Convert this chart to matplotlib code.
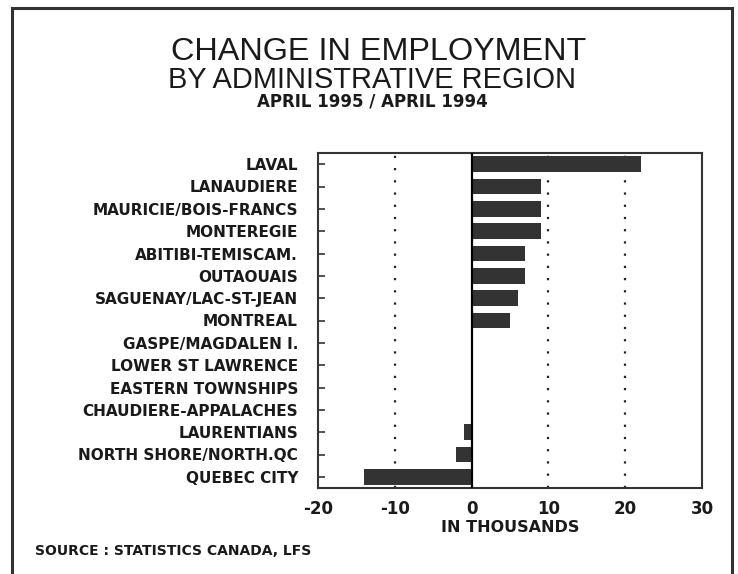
import matplotlib
matplotlib.use("Agg")
import matplotlib.pyplot as plt
from matplotlib.patches import Rectangle

# data (thousands)
regions = ["LAVAL", "LANAUDIERE", "MAURICIE/BOIS-FRANCS", "MONTEREGIE",
           "ABITIBI-TEMISCAM.", "OUTAOUAIS", "SAGUENAY/LAC-ST-JEAN", "MONTREAL",
           "GASPE/MAGDALEN I.", "LOWER ST LAWRENCE", "EASTERN TOWNSHIPS",
           "CHAUDIERE-APPALACHES", "LAURENTIANS", "NORTH SHORE/NORTH.QC",
           "QUEBEC CITY"]
change = [22, 9, 9, 9, 7, 7, 6, 5, 0, 0, 0, 0, -1, -2, -14]
xticks = [-20, -10, 0, 10, 20, 30]

W, H = 738, 574
fig = plt.figure(figsize=(W / 100, H / 100), dpi=100)
fig.patch.set_facecolor("white")

# outer frame (bottom edge cut off)
frame = Rectangle((12 / W, -0.05), 720 / W, 1.05 - 8 / H, transform=fig.transFigure,
                  fill=False, edgecolor="#333333", linewidth=2.2)
fig.patches.append(frame)

ax = fig.add_axes([318 / W, 1 - 488 / H, 384 / W, 335 / H])
pos = list(range(len(regions)))
ax.barh(pos, change, height=0.7, color="#333333", zorder=3)
ax.set_ylim(len(regions) - 0.5, -0.5)
ax.set_xlim(-20, 30)

bold = dict(fontweight="bold", family="DejaVu Sans", color="#1a1a1a")
ax.set_yticks(pos)
ax.set_yticklabels(regions, fontsize=11, **bold)
ax.tick_params(axis="y", direction="in", length=5, width=1.2, pad=14.4, color="#333333")
ax.set_xticks(xticks)
ax.set_xticklabels([str(v) for v in xticks], fontsize=12, **bold)
ax.tick_params(axis="x", length=0, pad=9)

for v in xticks[1:-1]:
    if v == 0:
        ax.axvline(v, color="black", linewidth=1.6, zorder=4)
    else:
        ax.axvline(v, color="#222222", linewidth=1.6, linestyle=(0, (1, 4.5)), zorder=2)

for s in ax.spines.values():
    s.set_color("#333333")
    s.set_linewidth(1.5)

ax.set_xlabel("IN THOUSANDS", fontsize=11.5, labelpad=1, **bold)

fig.text(379 / W, 1 - 60 / H, "CHANGE IN EMPLOYMENT", ha="center", va="baseline",
         fontsize=23.3, family="Liberation Sans", color="#1a1a1a")
fig.text(372 / W, 1 - 88 / H, "BY ADMINISTRATIVE REGION", ha="center", va="baseline",
         fontsize=20.9, family="Liberation Sans", color="#1a1a1a")
fig.text(372 / W, 1 - 107 / H, "APRIL 1995 / APRIL 1994", ha="center", va="baseline",
         fontsize=12, **bold)
fig.text(35 / W, 1 - 555 / H, "SOURCE : STATISTICS CANADA, LFS", ha="left", va="baseline",
         fontsize=10, **bold)

fig.savefig("out.png", dpi=100)
